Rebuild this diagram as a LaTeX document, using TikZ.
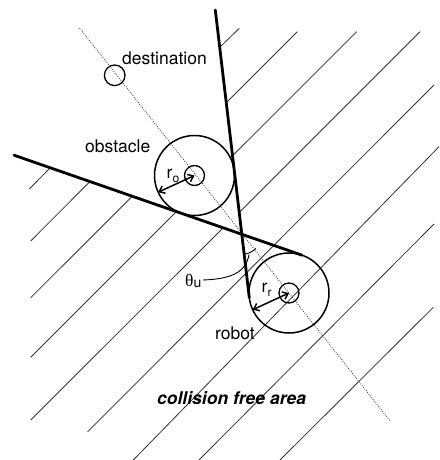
\documentclass[tikz,border=0pt]{standalone}
\usepackage{fontspec}
\setmainfont{TeX Gyre Heros}
\newfontfamily\grk{Liberation Serif}
\usetikzlibrary{arrows.meta}
\begin{document}
\begin{tikzpicture}[x=1pt,y=-1pt,
  thickline/.style={line width=2.8pt, line cap=round},
  circ/.style={line width=1.5pt},
  smallcirc/.style={line width=1.3pt},
  hatch/.style={line width=0.8pt, black!80},
  dotline/.style={line width=0.9pt, black!75, dash pattern=on 0.8pt off 1.4pt},
  radarrow/.style={line width=1.5pt, {Straight Barb[length=5pt,width=8pt]}-{Straight Barb[length=5pt,width=8pt]}},
  leader/.style={line width=0.9pt},
  lbl/.style={font=\fontsize{17.5}{20}\selectfont, inner sep=0pt, anchor=base west},
]
\useasboundingbox (0,0) rectangle (439,460);

% key points
\coordinate (D) at (114.7,75.3);
\coordinate (O) at (194.5,175.5);
\coordinate (R) at (289,293);
\coordinate (M) at (241.75,234.25);
\coordinate (L1top) at (215.3,10);
\coordinate (L1end) at (249.3,297.7);
\coordinate (L2start) at (14,155.2);
\coordinate (L2end) at (302.1,255.2);
\coordinate (dotA) at (79.5,28);
\coordinate (dotB) at (390.5,421.5);
\coordinate (Oedge) at (158.2,192.2);
\coordinate (Redge) at (252.7,309.7);

% hatching
\draw[hatch] (219.5,47.5) -- (239.3,28.3);
\draw[hatch] (226.1,102.9) -- (297.3,31.7);
\draw[hatch] (232.4,155.9) -- (356.7,31.7);
\draw[hatch] (239.2,212.5) -- (420,31.7);
\draw[hatch] (29.3,189) -- (50.2,167.8);
\draw[hatch] (30.7,241) -- (89.9,181.6);
\draw[hatch] (30.7,297.7) -- (132.3,196.2);
\draw[hatch] (30.7,357.3) -- (176.4,211.6);
\draw[hatch] (30.7,420) -- (223.2,227.8);
\draw[hatch] (87.7,431.7) -- (434,85);
\draw[hatch] (133.3,460) -- (439,146.7);
\draw[hatch] (199,460) -- (434,224);
\draw[hatch] (280,460) -- (433.3,307.3);

% dotted line through the centres
\draw[dotline] (dotA) -- (dotB);

% circles
\draw[smallcirc] (D) circle[radius=10.3pt];
\draw[circ] (O) circle[radius=40pt];
\draw[smallcirc] (O) circle[radius=10pt];
\draw[circ] (R) circle[radius=40pt];
\draw[smallcirc] (R) circle[radius=10pt];

% radius arrows
\draw[radarrow] (Oedge) -- (O);
\draw[radarrow] (Redge) -- (R);

% tangent lines
\draw[thickline] (L1top) -- (L1end);
\draw[thickline] (L2start) -- (L2end);

% angle arc and leader
\draw[leader] plot[domain=45:84, samples=20] ({241.75+20*cos(\x)},{234.25+20*sin(\x)});
\draw[leader] (203,280) .. controls (232,279) and (246,272) .. (249,254.5);

% labels
\node[lbl] (dest) at (122,64.5) {destination};
\node[lbl] (obs) at (85,152.5) {obstacle};
\node[lbl] (ro) at (166.5,178.5) {r\raisebox{-3.5pt}{\fontsize{12}{12}\selectfont o}};
\node[lbl] (rr) at (261.5,292.5) {r\raisebox{-3.5pt}{\fontsize{12}{12}\selectfont r}};
\node[lbl] (rob) at (215,339) {robot};
\node[lbl] (th) at (185,286.5) {{\grk θ}\raisebox{-1pt}{\fontsize{14}{14}\selectfont u}};
\node[lbl, font=\fontsize{17.5}{20}\selectfont\bfseries\itshape] (cfa) at (157,404) {collision free area};
\end{tikzpicture}
\end{document}
